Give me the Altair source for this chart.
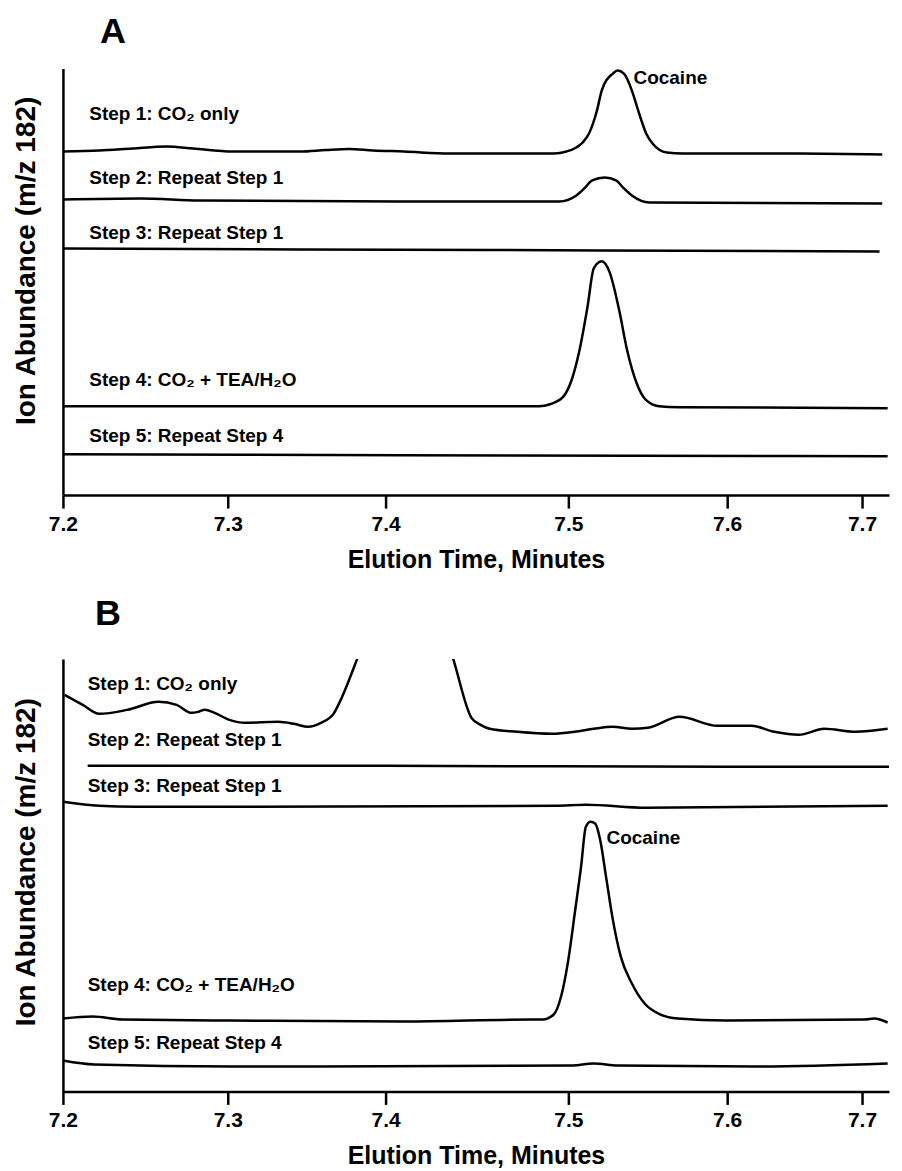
import altair as alt
import pandas as pd

FONT = "Liberation Sans"

# ---------------- Panel A (elution time in minutes, abundance above each trace baseline, arbitrary units)
a1_t = [7.200, 7.222, 7.242, 7.263, 7.279, 7.303, 7.346, 7.362, 7.377, 7.392, 7.410, 7.435, 7.492,
        7.499, 7.505, 7.509, 7.513, 7.518, 7.521, 7.528, 7.531, 7.535, 7.540, 7.543, 7.546, 7.549,
        7.553, 7.562, 7.572, 7.653, 7.715]
a1_s = [1, 2, 4, 6, 4, 1, 1, 2.5, 3.5, 2, 1, -1, -1,
        1, 5, 10, 19, 42, 62, 79, 82, 79, 62, 47, 32, 19,
        9, 0, -1, -1, -2]
a2_t = [7.200, 7.247, 7.283, 7.435, 7.495, 7.505, 7.510, 7.515, 7.523, 7.530, 7.535, 7.540, 7.551, 7.715]
a2_s = [1, 2, 0, -1, -1, 5, 12, 20, 23, 20, 12, 5, -2, -3]
a3_t = [7.200, 7.346, 7.520, 7.713]
a3_s = [1, 0, -1, -2]
a4_t = [7.200, 7.346, 7.484, 7.490, 7.497, 7.502, 7.507, 7.512, 7.516, 7.521, 7.526, 7.532, 7.537,
        7.543, 7.549, 7.557, 7.570, 7.719]
a4_s = [0, 0, 0, 2, 9, 26, 56, 99, 138, 145, 134, 96, 56, 23, 6, 0, -1, -2]
a5_t = [7.200, 7.408, 7.719]
a5_s = [1, 0, -1]
a_offsets = [343, 295, 246, 89, 40]

# ---------------- Panel B
b1_t = [7.201, 7.212, 7.222, 7.239, 7.258, 7.269, 7.278, 7.282, 7.286, 7.292, 7.301, 7.311, 7.332,
        7.342, 7.351, 7.359, 7.367, 7.371, 7.382, 7.411, 7.437, 7.447, 7.452, 7.457, 7.472, 7.491,
        7.504, 7.516, 7.528, 7.540, 7.550, 7.570, 7.594, 7.618, 7.635, 7.653, 7.672, 7.695, 7.719]
b1_s = [27, 17, 8, 12, 20, 17, 9, 10, 12, 9, 2, -1, 0,
        -2, -5, -1, 8, 20, 63, 206, 63, 4, -3, -7, -10, -12,
        -10, -7, -5, -7, -6, 5, -4, -4, -10, -13, -7, -10, -7]
b2_t = [7.215, 7.400, 7.600, 7.730]
b2_s = [0, 0, -1, -1]
b3_t = [7.200, 7.222, 7.244, 7.493, 7.511, 7.549, 7.719]
b3_s = [5, 1, 0, 1, 2, -1, 1]
b4_t = [7.200, 7.218, 7.236, 7.302, 7.410, 7.480, 7.486, 7.492, 7.496, 7.500, 7.504, 7.508, 7.511,
        7.514, 7.517, 7.520, 7.524, 7.528, 7.533, 7.540, 7.548, 7.558, 7.569, 7.599, 7.702, 7.709, 7.719]
b4_s = [1, 3, 0, -1, -2, 0, 0, 5, 23, 60, 106, 153, 193,
        198, 196, 180, 140, 100, 63, 36, 16, 5, 1, -1, 0, 1, -3]
b5_t = [7.200, 7.219, 7.303, 7.502, 7.516, 7.531, 7.622, 7.719]
b5_s = [5, 1, -1, 0, 2, 0, -1, 2]
b_offsets = [370, 326, 285, 72, 26]

steps = ["Step 1", "Step 2", "Step 3", "Step 4", "Step 5"]
step_labels = ["Step 1: CO\u2082 only", "Step 2: Repeat Step 1", "Step 3: Repeat Step 1",
               "Step 4: CO\u2082 + TEA/H\u2082O", "Step 5: Repeat Step 4"]
peak_label = "Cocaine"

# label anchors (time, abundance)
a_label_x = [7.216, 7.216, 7.216, 7.216, 7.216, 7.541]
a_label_y = [382, 317, 262, 115, 59, 418]
b_label_x = [7.215, 7.215, 7.215, 7.215, 7.215, 7.524]
b_label_y = [408, 352, 306, 107, 48, 254]

tick_values = [7.2, 7.3, 7.4, 7.5, 7.6, 7.7]
# printed (non-uniform) axis of the original figure
x_domain = [7.2, 7.3, 7.4, 7.5, 7.6, 7.7, 7.72]
x_range = [0, 165, 323, 506, 665, 800, 827]


def traces_df(ts, ss, offsets):
    rows = []
    for name, t, s, off in zip(steps, ts, ss, offsets):
        for ti, si in zip(t, s):
            rows.append({"trace": name, "time": ti, "abundance": off + si})
    return pd.DataFrame(rows)


def labels_df(xs, ys):
    return pd.DataFrame({"time": xs, "abundance": ys, "label": step_labels + [peak_label]})


def panel(df, ldf, letter, height, ymax, dx, title_y, title_offset):
    xs = alt.Scale(domain=x_domain, range=x_range, nice=False, zero=False)
    ys = alt.Scale(domain=[0, ymax], nice=False, zero=False)
    xax = alt.Axis(values=tick_values, format=".1f", title="Elution Time, Minutes", grid=False)
    yax = alt.Axis(title="Ion Abundance (m/z 182)", ticks=False, labels=False, grid=False,
                   titleY=title_y)
    lines = alt.Chart(df).mark_line(color="black", strokeWidth=2.5, clip=True,
                                    interpolate="monotone").encode(
        x=alt.X("time:Q", scale=xs, axis=xax),
        y=alt.Y("abundance:Q", scale=ys, axis=yax),
        detail="trace:N",
        order="time:Q",
    )
    texts = alt.Chart(ldf).mark_text(align="left", baseline="middle", font=FONT, fontSize=19,
                                     fontWeight="bold", color="black").encode(
        x=alt.X("time:Q", scale=xs, axis=xax),
        y=alt.Y("abundance:Q", scale=ys, axis=yax),
        text="label:N",
    )
    return alt.layer(lines, texts).properties(
        width=827, height=height,
        title=alt.TitleParams(text=letter, anchor="start", frame="group", dx=dx, fontSize=36,
                              font=FONT, fontWeight="bold", baseline="alphabetic",
                              offset=title_offset, color="black"),
    )


chart_a = panel(traces_df([a1_t, a2_t, a3_t, a4_t, a5_t], [a1_s, a2_s, a3_s, a4_s, a5_s], a_offsets),
                labels_df(a_label_x, a_label_y), "A", 427, 427, 37, 192, -10)
chart_b = panel(traces_df([b1_t, b2_t, b3_t, b4_t, b5_t], [b1_s, b2_s, b3_s, b4_s, b5_s], b_offsets),
                labels_df(b_label_x, b_label_y), "B", 433, 433, 32, 203, -2)

chart = alt.vconcat(chart_a, chart_b, spacing=24).properties(
    padding={"left": 5, "top": 5, "right": 5, "bottom": 0}
).configure_view(stroke=None).configure_axis(
    domainColor="black", domainWidth=2.5, tickColor="black", tickWidth=2.5, tickSize=13,
    labelFont=FONT, labelFontSize=21, labelFontWeight="bold", labelColor="black", labelPadding=5,
    titleFont=FONT, titleFontWeight="bold", titleColor="black",
).configure_axisX(titleFontSize=25, titlePadding=13, labelFlush=False).configure_axisY(
    titleFontSize=28, titlePadding=22
)

chart.save("out.html", embed_options={"renderer": "svg", "actions": False})
